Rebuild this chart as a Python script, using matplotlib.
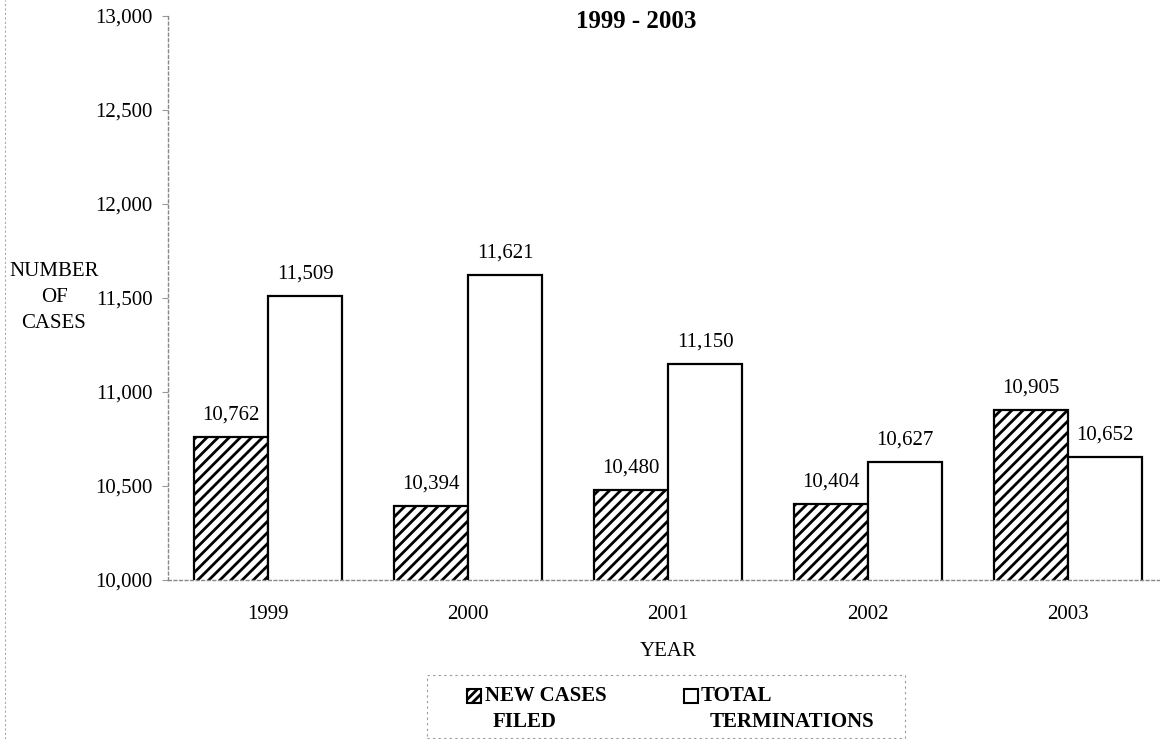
import matplotlib
matplotlib.use("Agg")
import matplotlib.pyplot as plt
import numpy as np
from matplotlib.patches import Rectangle
from matplotlib.lines import Line2D

years = ["1999", "2000", "2001", "2002", "2003"]
new_cases = [10762, 10394, 10480, 10404, 10905]
terminations = [11509, 11621, 11150, 10627, 10652]
yticks = [10000, 10500, 11000, 11500, 12000, 12500, 13000]
series_names = ["NEW CASES", "TOTAL"]
series_names2 = ["FILED", "TERMINATIONS"]

plt.rcParams['font.family'] = ['Liberation Serif', 'DejaVu Serif']
plt.rcParams['hatch.linewidth'] = 2.0

W, H = 1160, 739
fig = plt.figure(figsize=(W/100, H/100), dpi=100)
ax = fig.add_axes([168/W, (H-580)/H, 1000/W, 564/H])

def fx(px):
    return px / W

def fy(py):
    return 1 - py / H

FS = 15
x = np.arange(len(years))
bw = 0.37
ax.bar(x - bw/2, new_cases, bw, color='white', edgecolor='black', linewidth=1.6, hatch='///')
ax.bar(x + bw/2, terminations, bw, color='white', edgecolor='black', linewidth=1.6)

for xi, v in zip(x - bw/2, new_cases):
    ax.annotate(f"{v:,}", (xi, v), xytext=(0, 9), textcoords='offset points',
                ha='center', va='bottom', fontsize=FS)
for xi, v in zip(x + bw/2, terminations):
    ax.annotate(f"{v:,}", (xi, v), xytext=(0, 9), textcoords='offset points',
                ha='center', va='bottom', fontsize=FS)

ax.set_xlim(-0.5, 4.5)
ax.set_ylim(10000, 13000)
ax.set_yticks(yticks)
ax.set_yticklabels([f"{t:,}" for t in yticks], fontsize=FS)
ax.set_xticks(x)
ax.set_xticklabels(years, fontsize=FS)
ax.tick_params(axis='x', length=0, pad=18)
ax.tick_params(axis='y', length=4, color='#999999', pad=7)

for s in ['top', 'right']:
    ax.spines[s].set_visible(False)
for s in ['left', 'bottom']:
    ax.spines[s].set_color('#888888')
    ax.spines[s].set_linestyle((0, (2, 2)))
    ax.spines[s].set_linewidth(1)

fig.text(fx(636), fy(22), "1999 - 2003", ha='center', va='center', fontsize=18, fontweight='bold')
fig.text(fx(668), fy(651), "YEAR", ha='center', va='center', fontsize=FS)
fig.text(fx(54), fy(297), "NUMBER\nOF\nCASES", ha='center', va='center', fontsize=FS, linespacing=1.5)

# legend drawn by hand to match the two-line layout
fig.add_artist(Rectangle((fx(427), fy(738)), fx(905) - fx(427), fy(675) - fy(738),
                         transform=fig.transFigure, facecolor='none', edgecolor='#999999',
                         linestyle=(0, (2, 3)), linewidth=0.8))
hx = [467, 684]
tx1 = [485, 701]
tx2 = [493, 710]
hatches = ['////', '']
for i in range(2):
    fig.add_artist(Rectangle((fx(hx[i]), fy(703)), fx(14), 14 / H, transform=fig.transFigure,
                             facecolor='white', edgecolor='black', linewidth=1.5, hatch=hatches[i]))
    fig.text(fx(tx1[i]), fy(696), series_names[i], ha='left', va='center', fontsize=FS, fontweight='bold')
    fig.text(fx(tx2[i]), fy(722), series_names2[i], ha='left', va='center', fontsize=FS, fontweight='bold')

# faint left border line of the scanned page
fig.add_artist(Line2D([fx(5), fx(5)], [0, 1], transform=fig.transFigure, color='#aaaaaa',
                      linestyle=(0, (2, 2)), linewidth=0.8))

fig.savefig("out.png", dpi=100)
